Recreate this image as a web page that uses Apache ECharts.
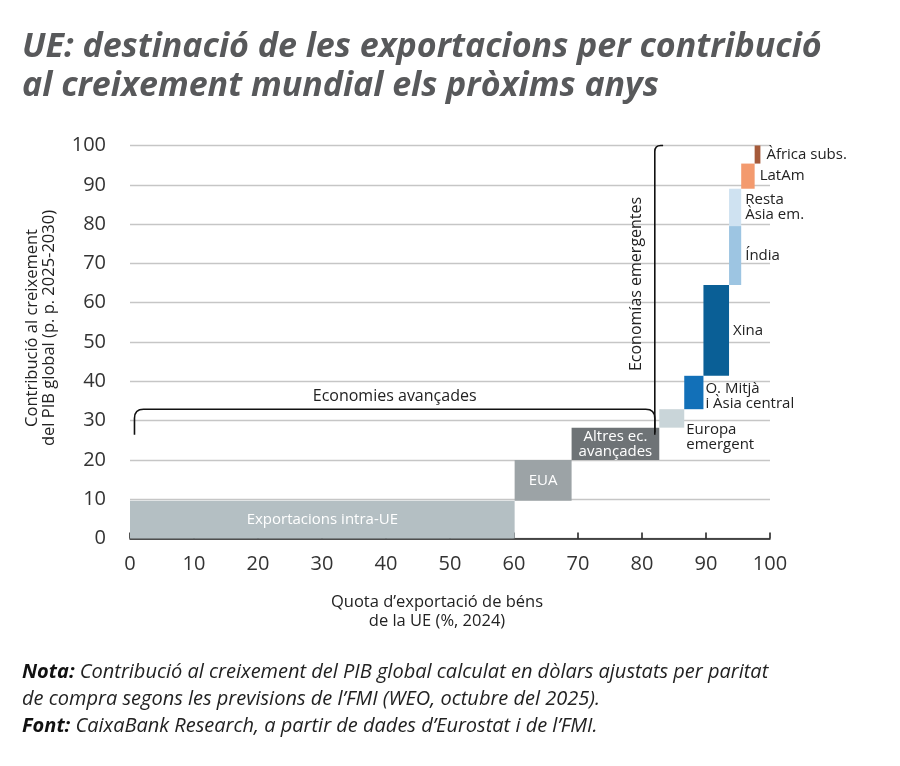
<!DOCTYPE html>
<html><head><meta charset="utf-8">
<script src="https://cdn.jsdelivr.net/npm/echarts@6/dist/echarts.min.js"></script>
<style>html,body{margin:0;padding:0;background:#fff}#c{width:900px;height:766px}</style>
</head><body><div id="c"></div>
<script>
// Data
const names = ['Exportacions intra-UE','EUA','Altres ec.\navançades','Europa\nemergent','O. Mitjà\ni Àsia central','Xina','Índia','Resta\nÀsia em.','LatAm','Àfrica subs.'];
const xFrom = [0, 60.1, 69.0, 82.7, 86.6, 89.6, 93.6, 93.6, 95.5, 97.6];
const xTo   = [60.1, 69.0, 82.7, 86.6, 89.6, 93.6, 95.5, 95.5, 97.6, 98.5];
const yFrom = [0, 9.6, 20.0, 28.2, 32.9, 41.4, 64.5, 79.5, 89.0, 95.4];
const yTo   = [9.6, 20.0, 28.2, 32.9, 41.4, 64.5, 79.5, 89.0, 95.4, 100];
const xTicks = [0,10,20,30,40,50,60,70,80,90,100];
const yTicks = [0,10,20,30,40,50,60,70,80,90,100];
// bracket extents (axis units)
const advBracket = {x0:0.7, x1:82.0, y:32.9, yEnd:26.4};
const emgBracket = {x:82.0, y0:100, y1:27.0, xEnd:83.3};

// Styles
const colors = ['#b4bfc3','#9ca3a6','#6e7376','#c9d5d9','#1270b8','#0a5f96','#9dc5e2','#cfe2f1','#f39a6e','#a55a3a'];
const labelMode = ['in','in','in','below','top','mid','mid','mid','mid','mid'];
const labelDx = [0,0,0,2,2,4,4,4,5,6];

const FONT = '"Open Sans", "Noto Sans", sans-serif';
const NARROW = '"Liberation Sans Narrow", "Open Sans", sans-serif';
const chart = echarts.init(document.getElementById('c'), null, {renderer:'canvas'});

const data = names.map((n,i)=>[xFrom[i], xTo[i], yFrom[i], yTo[i], i]);

const option = {
  animation:false,
  grid:{left:130, right:130, top:145.5, bottom:227.5},
  xAxis:{type:'value', min:0, max:100, interval:10,
    axisLine:{show:true, lineStyle:{color:'#1a1a1a', width:1.5}},
    axisTick:{show:true, inside:true, length:6, lineStyle:{color:'#1a1a1a', width:1.5}},
    axisLabel:{fontSize:20, color:'#333', fontFamily:FONT, margin:16, formatter:v=>xTicks.includes(v)?String(v):''},
    splitLine:{show:false}},
  yAxis:{type:'value', min:0, max:100, interval:10,
    axisLine:{show:false}, axisTick:{show:false},
    axisLabel:{fontSize:20, color:'#333', fontFamily:FONT, margin:24, formatter:v=>yTicks.includes(v)?String(v):''},
    splitLine:{show:true, lineStyle:{color:'#c6c6c6', width:1.3}}},
  series:[{
    type:'custom',
    data:data,
    encode:{x:[0,1], y:[2,3]},
    renderItem:function(params, api){
      const i = api.value(4);
      const p0 = api.coord([api.value(0), api.value(2)]);
      const p1 = api.coord([api.value(1), api.value(3)]);
      const x = p0[0], w = p1[0]-p0[0], y = p1[1], h = p0[1]-p1[1];
      const children = [{type:'rect', shape:{x:x, y:y, width:w, height:h}, style:{fill:colors[i]}}];
      const mode = labelMode[i];
      let st;
      if(mode==='in'){
        st = {x:x+w/2, y:y+h/2, align:'center', verticalAlign:'middle', fill:'#fff'};
      } else if(mode==='below'){
        st = {x:x+w+labelDx[i], y:y+13, align:'left', verticalAlign:'top', fill:'#222'};
      } else if(mode==='top'){
        st = {x:x+w+labelDx[i], y:y+5, align:'left', verticalAlign:'top', fill:'#222'};
      } else {
        st = {x:x+w+labelDx[i], y:y+h/2, align:'left', verticalAlign:'middle', fill:'#222'};
      }
      st.text = names[i]; st.font = '15px '+FONT; st.lineHeight = 15;
      children.push({type:'text', style:st});
      return {type:'group', children:children};
    }
  },{
    type:'custom',
    data:[[0]],
    silent:true,
    renderItem:function(params, api){
      const a0 = api.coord([advBracket.x0, advBracket.y]);
      const a1 = api.coord([advBracket.x1, advBracket.y]);
      const ab = api.coord([advBracket.x0, advBracket.yEnd]);
      const v0 = api.coord([emgBracket.x, emgBracket.y0]);
      const v1 = api.coord([emgBracket.x, emgBracket.y1]);
      const ve = api.coord([emgBracket.xEnd, emgBracket.y0]);
      const r = 9;
      const hx0=a0[0], hx1=a1[0], hy=a0[1], hyb=ab[1];
      const vx=v0[0], vy0=v0[1], vy1=v1[1];
      const hPath = `M${hx0},${hyb} L${hx0},${hy+r} Q${hx0},${hy} ${hx0+r},${hy} L${hx1-r},${hy} Q${hx1},${hy} ${hx1},${hy+r} L${hx1},${hyb}`;
      const vPath = `M${ve[0]},${vy0} L${vx+6},${vy0} Q${vx},${vy0} ${vx},${vy0+6} L${vx},${vy1}`;
      return {type:'group', children:[
        {type:'path', shape:{pathData:hPath}, style:{fill:null, stroke:'#111', lineWidth:1.6}},
        {type:'path', shape:{pathData:vPath}, style:{fill:null, stroke:'#111', lineWidth:1.6}},
        {type:'text', style:{text:'Economies avançades', x:(hx0+hx1)/2, y:hy-13, align:'center', verticalAlign:'middle', fill:'#222', font:'16px '+FONT}},
        {type:'text', x:vx-18, y:(vy0+vy1)/2-5, rotation:Math.PI/2, style:{text:'Economías emergentes', x:0, y:0, align:'center', verticalAlign:'middle', fill:'#222', font:'16px '+FONT}}
      ]};
    }
  }],
  graphic:[
    {type:'text', left:22, top:28, style:{text:'UE: destinació de les exportacions per contribució\nal creixement mundial els pròxims anys', fill:'#58595b', font:'italic bold 34px '+NARROW, lineHeight:39}},
    {type:'text', x:41, y:328, rotation:Math.PI/2, style:{text:'Contribució al creixement\ndel PIB global (p. p. 2025-2030)', align:'center', verticalAlign:'middle', fill:'#222', font:'16.5px '+FONT, lineHeight:17}},
    {type:'text', x:437, y:612, style:{text:'Quota d’exportació de béns\nde la UE (%, 2024)', align:'center', verticalAlign:'middle', fill:'#222', font:'16.5px '+FONT, lineHeight:19}},
    {type:'text', left:22, top:662, style:{
      text:'{b|Nota: }{i|Contribució al creixement del PIB global calculat en dòlars ajustats per paritat}\n{i|de compra segons les previsions de l’FMI (WEO, octubre del 2025).}\n{b|Font: }{i|CaixaBank Research, a partir de dades d’Eurostat i de l’FMI.}',
      rich:{
        b:{font:'italic bold 20px '+NARROW, fill:'#111', lineHeight:27},
        i:{font:'italic 20px '+NARROW, fill:'#222', lineHeight:27}
      }}}
  ]
};
chart.setOption(option);
</script></body></html>
